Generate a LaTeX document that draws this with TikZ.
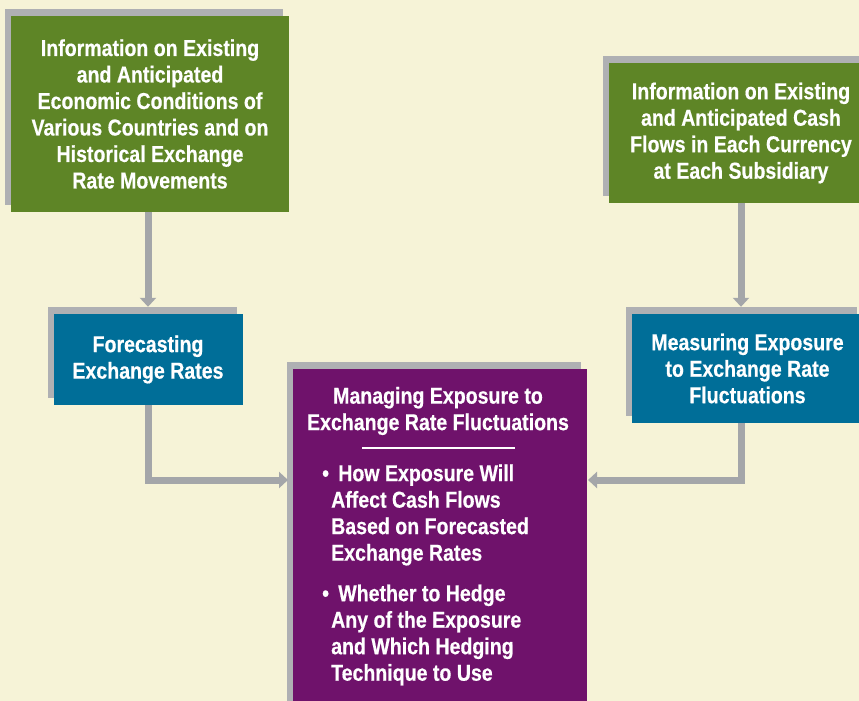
\documentclass[tikz,border=0pt]{standalone}
\usepackage{fontspec}
\setmainfont{Liberation Sans}[FakeStretch=0.85,BoldFeatures={FakeBold=0.5}]
\usetikzlibrary{arrows.meta,shadows}

\definecolor{bgcream}{RGB}{246,243,215}
\definecolor{boxgreen}{RGB}{94,133,38}
\definecolor{boxblue}{RGB}{0,110,152}
\definecolor{boxpurple}{RGB}{111,18,107}
\definecolor{shadowgray}{RGB}{175,176,179}
\definecolor{arrowgray}{RGB}{164,166,169}

\tikzset{
  boxtext/.style={text=white, font=\bfseries\fontsize{23pt}{26.5pt}\selectfont},
  box/.style={boxtext, align=center, inner sep=0pt,
    copy shadow={shadow xshift=-6pt, shadow yshift=7pt, fill=shadowgray, draw=none}},
  greenbox/.style={box, fill=boxgreen},
  bluebox/.style={box, fill=boxblue},
  purplebox/.style={box, fill=boxpurple},
  flow/.style={arrowgray, line width=7pt, -{Triangle[width=16pt,length=9pt]}}
}

\begin{document}
\begin{tikzpicture}[x=1pt,y=-1pt]
    \useasboundingbox (0,0) rectangle (859,701);
    \clip (0,0) rectangle (859,701);
    \fill[bgcream] (0,0) rectangle (859,701);

    % boxes
    \node[greenbox, minimum width=278pt, minimum height=196pt] (econ) at (150,114)
      {Information on Existing\\and Anticipated\\Economic Conditions of\\Various Countries and on\\Historical Exchange\\Rate Movements};
    \node[greenbox, minimum width=264pt, minimum height=140pt] (cash) at (741,133)
      {Information on Existing\\and Anticipated Cash\\Flows in Each Currency\\at Each Subsidiary};
    \node[bluebox, minimum width=189pt, minimum height=91pt] (fore) at (148,359.5)
      {Forecasting\\Exchange Rates};
    \node[bluebox, minimum width=231pt, minimum height=109pt] (meas) at (747.5,368.5)
      {Measuring Exposure\\to Exchange Rate\\Fluctuations};
    \node[purplebox, minimum width=294pt, minimum height=362pt] (manage) at (440,550) {};

    % text of the managing box
    \node[boxtext, align=center, inner sep=0pt] (mtitle) at (438,411)
      {Managing Exposure to\\Exchange Rate Fluctuations};
    \draw[white, line width=2pt] (362,448) -- (515,448);
    \node[boxtext, align=left, inner sep=0pt, anchor=west] (howitem) at (322,515)
      {\textbullet\ \,How Exposure Will\\\hspace*{9pt}Affect Cash Flows\\\hspace*{9pt}Based on Forecasted\\\hspace*{9pt}Exchange Rates};
    \node[boxtext, align=left, inner sep=0pt, anchor=west] (hedgeitem) at (322,635)
      {\textbullet\ \,Whether to Hedge\\\hspace*{9pt}Any of the Exposure\\\hspace*{9pt}and Which Hedging\\\hspace*{9pt}Technique to Use};

    % arrows
    \coordinate (inl) at (288,480);
    \coordinate (inr) at (588,480);
    \draw[flow] (econ.south -| fore.north) -- (fore.north) [shorten >=7pt];
    \draw[flow] (cash.south) -- (meas.north -| cash.south) [shorten >=7pt];
    \draw[flow] (fore.south) |- (inl);
    \draw[flow] (meas.south -| cash.south) |- (inr);
\end{tikzpicture}
\end{document}
